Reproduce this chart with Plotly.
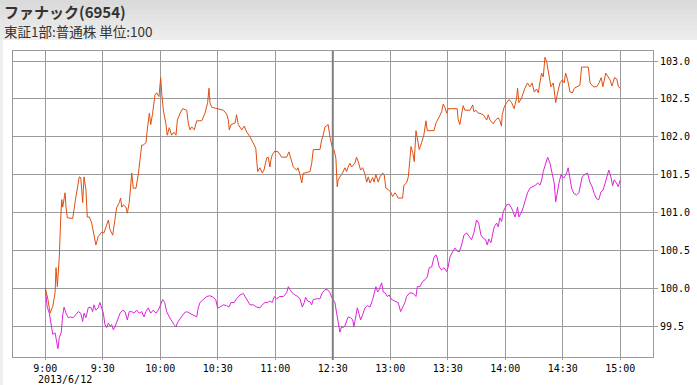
import plotly.graph_objects as go

# ---- data (session minutes from 9:00; lunch break 11:30-12:30 compressed) ----
stock_min = [0, 1.4, 2.5, 3.9, 5.1, 5.6, 6.3, 7.3, 8.0, 8.6, 9.1, 9.8, 10.3, 10.8, 11.5, 14.3, 15.0, 16.0, 17.2, 17.7,
             18.5, 19.5, 20.2, 21.2, 21.9, 23.0, 24.2, 25.4, 26.4, 27.6, 29.4, 30.6, 31.7, 32.9, 33.8, 35.2, 35.8, 37.2,
             38.6, 39.3, 39.9, 40.7, 42.1, 42.8, 43.8, 44.5, 45.1, 45.9, 47.3, 48.5, 49.4, 50.3, 51.1, 52.5, 53.2, 54.3,
             55.0, 56.0, 57.2, 58.1, 59.3, 60.2, 60.7, 61.6, 63.0, 63.6, 64.7, 65.9, 67.1, 68.2, 68.9, 70.3, 71.7, 73.8,
             74.6, 75.5, 76.4, 77.7, 79.0, 81.6, 83.3, 84.7, 85.4, 85.9, 86.8, 89.4, 92.9, 94.6, 95.5, 96.0, 96.9, 99.0,
             99.8, 100.7, 102.5, 103.8, 105.1, 106.8, 108.5, 109.8, 110.3, 110.8, 112.0, 113.2, 114.1, 115.5, 116.3,
             117.2, 117.7, 118.4, 119.8, 121.5, 123.3, 125.9, 127.1, 128.2, 129.4, 131.1, 131.8, 132.9, 133.8, 134.6,
             135.5, 138.1, 139.0, 139.8, 143.3, 144.2, 145.0, 145.9, 147.6, 148.5, 149.4, 150.0, 150.6, 151.6, 152.3,
             152.8, 153.7, 155.1, 156.3, 157.2, 158.0, 158.9, 159.8, 161.5, 162.4, 163.3, 164.5, 165.6, 166.8, 167.7,
             168.5, 169.4, 170.8, 171.5, 172.5, 173.7, 174.6, 176.0, 176.8, 177.7, 178.9, 180.2, 181.2, 182.4, 183.3,
             184.1, 186.4, 187.1, 188.5, 189.4, 190.2, 190.8, 191.7, 192.5, 193.4, 194.1, 195.1, 196.3, 197.5, 198.6,
             199.3, 202.8, 203.8, 205.5, 206.8, 207.6, 208.5, 209.4, 210.2, 214.9, 215.4, 216.3, 217.2, 218.0, 218.9,
             219.8, 221.6, 223.0, 223.6, 224.7, 225.9, 226.8, 228.5, 230.3, 231.1, 232.0, 233.7, 234.9, 236.3, 237.2,
             238.0, 238.4, 239.4, 240.7, 242.0, 243.3, 244.6, 245.9, 246.4, 247.1, 248.5, 250.2, 251.6, 252.8, 254.0,
             255.1, 256.3, 257.2, 258.1, 258.9, 259.8, 260.7, 261.6, 262.8, 263.8, 265.0, 266.3, 267.3, 268.5, 269.7,
             270.7, 271.5, 272.5, 273.8, 275.0, 276.0, 277.4, 278.9, 279.8, 283.3, 284.2, 285.9, 287.7, 288.9, 290.0,
             290.9, 292.4, 293.5, 294.7, 295.6, 297.0, 298.2, 299.0, 300.0]
stock_val = [100.00, 99.85, 99.67, 99.76, 99.94, 100.27, 100.02, 100.41, 100.90, 101.17, 101.07, 101.17, 101.26,
             101.07, 100.93, 100.92, 101.07, 101.21, 101.39, 101.47, 101.46, 101.13, 101.47, 101.30, 100.94, 100.94,
             100.86, 100.68, 100.57, 100.68, 100.74, 100.73, 100.81, 100.90, 100.77, 100.70, 100.81, 101.06, 101.13,
             101.19, 101.07, 101.10, 101.07, 100.99, 101.13, 101.34, 101.52, 101.32, 101.32, 101.50, 101.69, 101.89,
             101.89, 101.92, 102.09, 102.31, 102.16, 102.31, 102.55, 102.58, 102.53, 102.78, 102.59, 102.35, 102.16,
             102.02, 102.12, 102.02, 102.06, 102.02, 102.22, 102.31, 102.37, 102.35, 102.18, 102.09, 102.13, 102.09,
             102.21, 102.21, 102.31, 102.45, 102.64, 102.45, 102.39, 102.37, 102.35, 102.30, 102.22, 102.09, 102.16,
             102.18, 102.29, 102.16, 102.09, 102.14, 102.06, 102.00, 101.92, 101.85, 101.69, 101.54, 101.59, 101.52,
             101.56, 101.72, 101.73, 101.60, 101.69, 101.76, 101.81, 101.80, 101.73, 101.73, 101.80, 101.69, 101.60,
             101.56, 101.59, 101.50, 101.39, 101.52, 101.52, 101.54, 101.65, 101.83, 101.83, 101.96, 102.02, 102.13,
             102.16, 102.00, 101.87, 101.83, 101.83, 101.72, 101.34, 101.43, 101.47, 101.52, 101.59, 101.54, 101.60,
             101.65, 101.60, 101.65, 101.73, 101.67, 101.56, 101.59, 101.50, 101.40, 101.47, 101.39, 101.46, 101.40,
             101.50, 101.40, 101.47, 101.52, 101.50, 101.32, 101.30, 101.27, 101.21, 101.26, 101.23, 101.19, 101.19,
             101.36, 101.39, 101.47, 101.69, 101.87, 101.79, 101.67, 102.08, 101.96, 101.83, 101.92, 102.02, 102.21,
             102.08, 102.08, 102.18, 102.26, 102.33, 102.43, 102.39, 102.31, 102.37, 102.37, 102.23, 102.16, 102.29,
             102.41, 102.35, 102.35, 102.35, 102.42, 102.33, 102.35, 102.31, 102.31, 102.29, 102.22, 102.29, 102.22,
             102.17, 102.22, 102.25, 102.21, 102.14, 102.29, 102.39, 102.45, 102.49, 102.45, 102.37, 102.51, 102.64,
             102.45, 102.51, 102.64, 102.71, 102.66, 102.71, 102.59, 102.63, 102.58, 102.72, 102.84, 102.79, 103.05,
             102.99, 102.82, 102.66, 102.71, 102.45, 102.58, 102.71, 102.75, 102.71, 102.84, 102.75, 102.59, 102.58,
             102.64, 102.66, 102.68, 102.92, 102.92, 102.71, 102.66, 102.66, 102.71, 102.78, 102.66, 102.84, 102.79,
             102.75, 102.67, 102.78, 102.76, 102.66, 102.64]

index_min = [0, 1.0, 2.1, 2.8, 3.9, 5.1, 5.9, 6.6, 7.3, 8.3, 9.1, 9.8, 10.8, 12.0, 13.2, 14.4, 16.0, 17.2, 18.5, 19.5,
             20.2, 21.2, 22.4, 23.7, 24.7, 25.4, 26.4, 27.6, 28.5, 29.4, 30.3, 31.1, 32.0, 32.9, 33.8, 34.6, 35.5, 36.4,
             37.6, 39.0, 40.4, 41.6, 42.8, 43.8, 45.1, 46.3, 47.7, 49.0, 50.3, 51.5, 52.5, 53.7, 55.0, 56.3, 57.7, 58.9,
             60.2, 61.2, 62.3, 63.3, 64.7, 65.9, 67.1, 68.2, 68.9, 69.9, 71.2, 72.4, 73.8, 75.1, 76.4, 79.0, 79.8, 80.7,
             82.4, 84.2, 85.9, 87.6, 88.9, 89.9, 91.1, 92.9, 94.6, 95.8, 96.9, 98.6, 99.8, 101.6, 103.3, 105.1, 106.8,
             108.5, 110.3, 112.0, 113.2, 114.6, 116.0, 117.2, 118.4, 119.5, 120.7, 122.4, 124.2, 125.9, 126.8, 127.6,
             128.8, 130.3, 131.7, 132.9, 134.1, 135.1, 135.8, 136.9, 138.1, 139.0, 139.8, 141.6, 143.3, 144.5, 145.9,
             147.3, 148.5, 149.4, 150.0, 151.1, 152.0, 152.8, 153.7, 154.6, 155.4, 156.3, 157.2, 158.0, 159.3, 160.4,
             161.0, 162.1, 162.8, 163.8, 164.5, 165.6, 166.8, 168.0, 169.4, 170.8, 171.5, 172.5, 173.4, 174.2, 175.5,
             176.3, 177.2, 178.4, 179.4, 180.7, 182.4, 184.1, 185.4, 186.4, 187.6, 188.5, 190.2, 192.0, 193.4, 194.1,
             195.5, 196.9, 198.1, 199.3, 200.3, 201.6, 202.8, 203.8, 204.5, 205.5, 206.8, 208.0, 209.4, 210.2, 211.1,
             212.5, 213.7, 214.9, 216.0, 217.2, 218.4, 219.8, 221.2, 222.4, 223.6, 225.0, 226.1, 227.3, 228.5, 229.7,
             230.6, 231.4, 232.5, 233.2, 234.2, 235.5, 236.3, 237.2, 238.1, 238.9, 239.8, 240.7, 241.9, 243.0, 244.1,
             245.0, 245.9, 246.4, 247.1, 248.2, 249.4, 250.6, 251.6, 252.8, 254.6, 255.8, 256.9, 258.1, 259.0, 259.8,
             261.1, 262.1, 263.3, 264.5, 265.5, 266.3, 267.3, 268.0, 269.1, 269.7, 270.7, 272.0, 272.8, 273.7, 274.6,
             275.8, 277.2, 278.4, 279.4, 280.1, 281.5, 282.9, 284.1, 285.3, 286.4, 287.6, 288.8, 289.9, 291.1, 292.3,
             293.4, 294.0, 295.1, 296.0, 296.8, 298.0, 298.9, 300.0]
index_val = [100.00, 99.75, 99.67, 99.54, 99.39, 99.41, 99.29, 99.20, 99.35, 99.41, 99.65, 99.75, 99.67, 99.61, 99.62,
             99.61, 99.65, 99.69, 99.67, 99.56, 99.67, 99.61, 99.74, 99.75, 99.69, 99.78, 99.71, 99.74, 99.81, 99.75,
             99.67, 99.52, 99.48, 99.54, 99.50, 99.52, 99.45, 99.49, 99.58, 99.67, 99.71, 99.69, 99.58, 99.69, 99.69,
             99.67, 99.71, 99.67, 99.69, 99.62, 99.69, 99.74, 99.67, 99.71, 99.67, 99.71, 99.78, 99.85, 99.81, 99.69,
             99.62, 99.56, 99.52, 99.49, 99.54, 99.58, 99.62, 99.67, 99.69, 99.67, 99.65, 99.62, 99.74, 99.81, 99.85,
             99.89, 99.90, 99.88, 99.85, 99.74, 99.75, 99.78, 99.77, 99.75, 99.81, 99.81, 99.86, 99.91, 99.93, 99.86,
             99.78, 99.78, 99.75, 99.74, 99.78, 99.81, 99.81, 99.83, 99.81, 99.89, 99.86, 99.89, 99.89, 99.94, 100.02,
             99.98, 99.94, 99.91, 99.89, 99.86, 99.75, 99.81, 99.88, 99.83, 99.82, 99.78, 99.85, 99.86, 99.86, 99.94,
             99.98, 99.98, 99.94, 99.88, 99.85, 99.81, 99.67, 99.54, 99.42, 99.49, 99.48, 99.50, 99.58, 99.62, 99.61,
             99.58, 99.49, 99.62, 99.74, 99.65, 99.58, 99.65, 99.74, 99.77, 99.75, 99.85, 99.91, 100.02, 99.95, 99.98,
             100.07, 99.95, 99.94, 99.89, 99.91, 99.85, 99.83, 99.81, 99.69, 99.75, 99.81, 99.89, 99.94, 99.93, 99.89,
             100.02, 100.02, 100.09, 100.11, 100.15, 100.27, 100.28, 100.41, 100.44, 100.40, 100.28, 100.24, 100.27,
             100.22, 100.28, 100.41, 100.48, 100.53, 100.49, 100.48, 100.57, 100.70, 100.73, 100.68, 100.64, 100.73,
             100.90, 100.86, 100.70, 100.66, 100.64, 100.57, 100.65, 100.60, 100.68, 100.81, 100.86, 100.81, 100.93,
             100.88, 101.01, 101.06, 101.10, 101.11, 101.07, 101.01, 100.94, 101.01, 101.07, 100.94, 100.99, 101.07,
             101.19, 101.26, 101.32, 101.34, 101.36, 101.39, 101.36, 101.43, 101.54, 101.65, 101.73, 101.65, 101.52,
             101.39, 101.14, 101.30, 101.39, 101.50, 101.47, 101.46, 101.52, 101.59, 101.46, 101.32, 101.25, 101.23,
             101.26, 101.39, 101.47, 101.50, 101.52, 101.40, 101.34, 101.25, 101.18, 101.17, 101.27, 101.30, 101.40,
             101.52, 101.56, 101.47, 101.35, 101.43, 101.39, 101.34, 101.43]

x_tick_pos = [0, 30, 60, 90, 120, 150, 180, 210, 240, 270, 300]
x_tick_text = ["9:00", "9:30", "10:00", "10:30", "11:00", "12:30", "13:00", "13:30", "14:00", "14:30", "15:00"]
y_ticks = [99.5, 100.0, 100.5, 101.0, 101.5, 102.0, 102.5, 103.0]
date_label = "2013/6/12"
title_text = "<b>ファナック(6954)</b>"
subtitle_text = "東証1部:普通株 単位:100"
lunch_tick = 150

W, H = 697, 385
GRID = "#9a9a9a"
MONO = "DejaVu Sans Mono"

fig = go.Figure()
fig.add_trace(go.Scatter(x=index_min, y=index_val, mode="lines",
                         line=dict(color="#dd22dd", width=1), hoverinfo="skip"))
fig.add_trace(go.Scatter(x=stock_min, y=stock_val, mode="lines",
                         line=dict(color="#e04e10", width=1), hoverinfo="skip"))

# header background (light gray gradient) and left strip
bands = ["#dadada", "#dddddd", "#e0e0e0", "#e3e3e3", "#e6e6e6", "#e8e8e8", "#eaeaea", "#ececec"]
for i, c in enumerate(bands):
    fig.add_shape(type="rect", xref="paper", yref="paper", x0=0, x1=1,
                  y0=1 - (i + 1) * 40 / H / len(bands), y1=1 - i * 40 / H / len(bands),
                  fillcolor=c, line=dict(width=0), layer="below")
fig.add_shape(type="rect", xref="paper", yref="paper", x0=0, x1=3 / W, y0=0, y1=1 - 40 / H,
              fillcolor="#eeeeee", line=dict(width=0), layer="below")

# darker lunch-break separator
fig.add_shape(type="line", xref="x", yref="paper", x0=lunch_tick, x1=lunch_tick,
              y0=(H - 360) / H, y1=(H - 51) / H, line=dict(color="#808080", width=2))

fig.add_annotation(text=title_text, xref="paper", yref="paper", x=2 / W, y=1 - 11 / H,
                   xanchor="left", yanchor="middle", showarrow=False,
                   font=dict(family="Noto Sans CJK JP", size=15, color="#333333"))
fig.add_annotation(text=subtitle_text, xref="paper", yref="paper", x=2 / W, y=1 - 31 / H,
                   xanchor="left", yanchor="middle", showarrow=False,
                   font=dict(family="Noto Sans CJK JP", size=13.5, color="#333333"))
fig.add_annotation(text=date_label, xref="x", yref="paper", x=x_tick_pos[0], y=1 - 379 / H,
                   xanchor="center", yanchor="middle", showarrow=False, xshift=20,
                   font=dict(family=MONO, size=10, color="#000000"))

fig.update_layout(
    width=W, height=H, margin=dict(l=0, r=0, t=0, b=0),
    paper_bgcolor="#ffffff", plot_bgcolor="#ffffff", showlegend=False,
    xaxis=dict(domain=[13 / W, 653 / W], range=[-16.85, 317.06],
               tickmode="array", tickvals=x_tick_pos, ticktext=x_tick_text,
               showgrid=True, gridcolor=GRID, gridwidth=1, zeroline=False,
               showline=True, linecolor=GRID, linewidth=1, mirror=True,
               ticks="outside", ticklen=2, tickcolor=GRID, automargin=False,
               tickfont=dict(family=MONO, size=10, color="#000000")),
    yaxis=dict(domain=[(H - 357) / H, (H - 51) / H], range=[99.091, 103.132], side="right",
               tickmode="array", tickvals=y_ticks, ticktext=[f"{v:.1f}" for v in y_ticks],
               showgrid=True, gridcolor=GRID, gridwidth=1, zeroline=False,
               showline=True, linecolor=GRID, linewidth=1, mirror=True,
               ticks="outside", ticklen=4, tickcolor=GRID, automargin=False,
               tickfont=dict(family=MONO, size=10, color="#000000")),
)

fig.write_html("out.html")
